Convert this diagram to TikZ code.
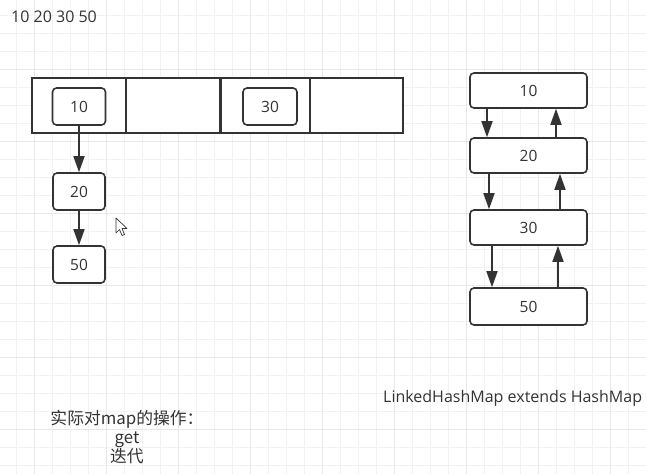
\documentclass[tikz,border=0pt]{standalone}
\usepackage{fontspec}
\setmainfont{Open Sans}
\newfontfamily\cjk{Noto Sans CJK SC}
\usetikzlibrary{arrows.meta}
\definecolor{ink}{HTML}{333333}
\definecolor{gminor}{HTML}{F2F2F2}
\definecolor{gmajor}{HTML}{E8E8E8}
\begin{document}
\begin{tikzpicture}[x=1pt,y=-1pt,
  box/.style={draw=ink,line width=1.6pt,rounded corners=4pt,fill=white,inner sep=0pt,
              text=ink,font=\fontsize{15.5}{18}\selectfont},
  cell/.style={draw=ink,line width=1.6pt,fill=white,inner sep=0pt,minimum height=55pt},
  arr/.style={draw=ink,line width=1.6pt,-{Triangle[length=16pt,width=11pt]}},
  txt/.style={text=ink,inner sep=0pt,font=\fontsize{16}{18}\selectfont}]
\useasboundingbox (0,0) rectangle (646,474);
\fill[white] (0,0) rectangle (646,474);
% grid
\foreach \x in {16,34,...,646} \draw[gminor,line width=1pt] (\x,0) -- (\x,474);
\foreach \y in {15,33,...,474} \draw[gminor,line width=1pt] (0,\y) -- (646,\y);
\foreach \x in {34,106,...,646} \draw[gmajor,line width=1pt] (\x,0) -- (\x,474);
\foreach \y in {69,141,...,474} \draw[gmajor,line width=1pt] (0,\y) -- (646,\y);

% bucket array
\node[cell,minimum width=94pt] (c1) at (79,105.5) {};
\node[cell,minimum width=94pt] (c2) at (173,105.5) {};
\node[cell,minimum width=90pt] (c3) at (265,105.5) {};
\node[cell,minimum width=93pt] (c4) at (356.5,105.5) {};
\draw[ink,line width=2.6pt] (c2.north east) -- (c2.south east);

\node[box,minimum width=53pt,minimum height=37pt] (b10) at (79,106.5) {10};
\node[box,minimum width=54pt,minimum height=37pt] (b30) at (270,106.5) {30};
\node[box,minimum width=52pt,minimum height=37pt] (b20) at (79,191.5) {20};
\node[box,minimum width=52pt,minimum height=37pt] (b50) at (79,264.5) {50};
\draw[arr] (b10.south) -- (b20.north);
\draw[arr] (b20.south) -- (b50.north);

% linked list
\node[box,minimum width=117pt,minimum height=35pt] (r10) at (528.5,90.5) {10};
\node[box,minimum width=117pt,minimum height=35pt] (r20) at (528.5,155.5) {20};
\node[box,minimum width=117pt,minimum height=35pt] (r30) at (528.5,227.5) {30};
\node[box,minimum width=117pt,minimum height=37pt] (r50) at (528.5,306.5) {50};
\draw[arr] ([xshift=-41.5pt]r10.south) -- ([xshift=-41.5pt]r20.north);
\draw[arr] ([xshift=-39.5pt]r20.south) -- ([xshift=-39.5pt]r30.north);
\draw[arr] ([xshift=-36.5pt]r30.south) -- ([xshift=-36.5pt]r50.north);
\draw[arr] ([xshift=27.5pt]r20.north) -- ([xshift=27.5pt]r10.south);
\draw[arr] ([xshift=31.5pt]r30.north) -- ([xshift=31.5pt]r20.south);
\draw[arr] ([xshift=29.5pt]r50.north) -- ([xshift=29.5pt]r30.south);

% texts
\node[txt,anchor=west] (top) at (11,17) {10 20 30 50};
\node[txt,anchor=west,font=\fontsize{16}{18}\selectfont] (lhm) at (383,398) {LinkedHashMap extends HashMap};
\node[txt,align=center,font=\cjk\fontsize{16.8}{19}\selectfont] (ops) at (127,437) {实际对map的操作：\\get\\迭代};

% mouse cursor
\draw[ink,fill=white,line width=0.7pt,line join=round]
  (116,218) -- (116,233) -- (119.5,229.5) -- (122,235.5) -- (124.5,234.5) -- (122,228.5) -- (127,228.5) -- cycle;
\end{tikzpicture}
\end{document}
